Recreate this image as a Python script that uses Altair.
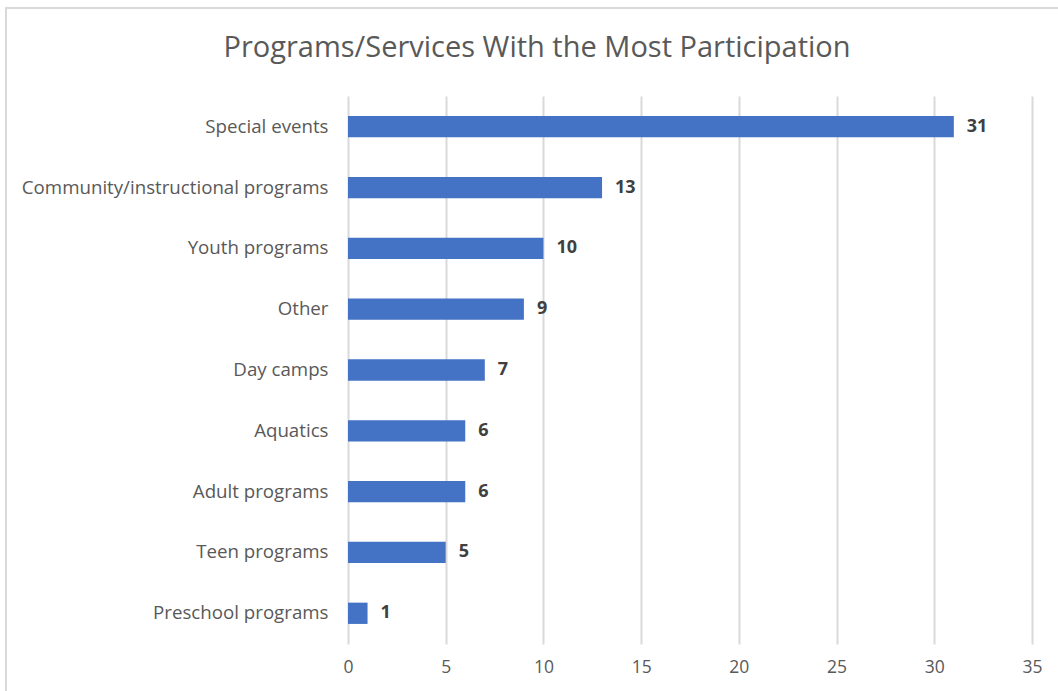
import altair as alt
import pandas as pd

# Survey results: programs/services with the most participation
categories = [
    "Special events",
    "Community/instructional programs",
    "Youth programs",
    "Other",
    "Day camps",
    "Aquatics",
    "Adult programs",
    "Teen programs",
    "Preschool programs",
]
counts = [31, 13, 10, 9, 7, 6, 6, 5, 1]
x_ticks = [0, 5, 10, 15, 20, 25, 30, 35]

df = pd.DataFrame({"program": categories, "count": counts})

FONT = "Open Sans"
GRAY = "#595959"

y_enc = alt.Y(
    "program:N",
    sort=categories,
    title=None,
    scale=alt.Scale(paddingInner=0.65, paddingOuter=0.33),
    axis=alt.Axis(
        domain=False,
        ticks=False,
        grid=False,
        labelColor=GRAY,
        labelFont=FONT,
        labelFontSize=18.7,
        labelPadding=20,
        labelLimit=400,
    ),
)

x_enc = alt.X(
    "count:Q",
    title=None,
    scale=alt.Scale(domain=[0, 35], nice=False),
    axis=alt.Axis(
        values=x_ticks,
        domain=False,
        ticks=False,
        grid=True,
        gridColor="#d9d9d9",
        gridWidth=2,
        labelColor=GRAY,
        labelFont=FONT,
        labelFontSize=17.5,
        labelPadding=14,
        labelFlush=False,
    ),
)

bars = alt.Chart(df).mark_bar(color="#4472C4").encode(x=x_enc, y=y_enc)

labels = alt.Chart(df).mark_text(
    align="left",
    baseline="middle",
    dx=13,
    font=FONT,
    fontSize=18,
    fontWeight="bold",
    color="#404040",
).encode(x="count:Q", y=alt.Y("program:N", sort=categories), text="count:Q")

# Light frame along the top and left edges of the chart area
frame_top = alt.Chart(df).mark_rule(color="#d9d9d9", strokeWidth=2).encode(
    x=alt.value(-342), x2=alt.value(720), y=alt.value(-88)
)
frame_left = alt.Chart(df).mark_rule(color="#d9d9d9", strokeWidth=2).encode(
    x=alt.value(-342), y=alt.value(-89), y2=alt.value(600)
)

chart = (
    alt.layer(frame_top, frame_left, bars, labels)
    .properties(
        width=684,
        height=548,
        background="white",
        autosize=alt.AutoSizeParams(type="none"),
        padding={"left": 348, "top": 96, "right": 26, "bottom": 47},
        title=alt.Title(
            "Programs/Services With the Most Participation",
            font=FONT,
            fontSize=29,
            fontWeight="normal",
            color=GRAY,
            anchor="middle",
            dx=-153,
            offset=-57,
        ),
    )
    .configure_view(strokeWidth=0)
)

chart.save("out.html", embed_options={"renderer": "svg", "actions": False})
